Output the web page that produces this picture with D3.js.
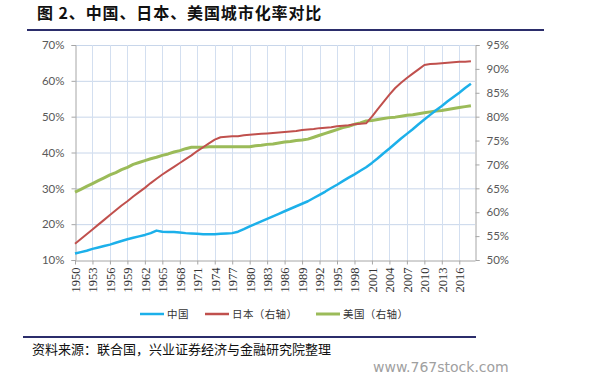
<!DOCTYPE html>
<html><head><meta charset="utf-8">
<script src="https://cdn.jsdelivr.net/npm/d3@7"></script>
<style>body{margin:0;background:#fff;}svg{display:block;}</style>
</head><body>
<svg id="c" width="597" height="383"></svg>
<script>
const years = d3.range(1950, 2019);
const china = [11.8,12.2,12.6,13.1,13.5,13.9,14.3,14.8,15.3,15.8,16.2,16.6,17.0,17.5,18.2,17.9,17.8,17.8,17.7,17.5,17.4,17.3,17.2,17.2,17.2,17.3,17.4,17.5,17.9,18.6,19.4,20.1,20.8,21.5,22.2,22.9,23.6,24.3,25.0,25.7,26.4,27.3,28.2,29.1,30.1,31.0,32.0,33.0,33.9,34.9,35.9,37.1,38.4,39.8,41.1,42.5,43.9,45.2,46.5,47.9,49.2,50.5,51.8,53.0,54.3,55.5,56.7,58.0,59.2];
const japan = [53.4,54.4,55.4,56.4,57.4,58.4,59.4,60.4,61.4,62.3,63.3,64.2,65.1,66.1,67.0,67.9,68.7,69.5,70.3,71.1,71.9,72.8,73.6,74.4,75.2,75.7,75.8,75.9,75.9,76.1,76.2,76.3,76.4,76.5,76.6,76.7,76.8,76.9,77.0,77.2,77.3,77.4,77.6,77.7,77.8,78.0,78.1,78.2,78.4,78.5,78.6,80.0,81.6,83.1,84.6,86.0,87.1,88.1,89.0,89.9,90.8,91.0,91.1,91.2,91.3,91.4,91.5,91.5,91.6];
const usa = [64.2,64.8,65.4,66.0,66.6,67.2,67.8,68.3,68.9,69.4,70.0,70.4,70.8,71.2,71.5,71.9,72.2,72.6,72.9,73.3,73.6,73.6,73.6,73.7,73.7,73.7,73.7,73.7,73.7,73.7,73.7,73.9,74.0,74.2,74.3,74.5,74.7,74.8,75.0,75.1,75.3,75.7,76.1,76.5,76.9,77.3,77.7,78.0,78.4,78.7,79.1,79.2,79.4,79.6,79.8,79.9,80.1,80.3,80.4,80.6,80.8,81.0,81.2,81.3,81.5,81.7,81.9,82.1,82.3];
const leftTicks = [10,20,30,40,50,60,70];
const rightTicks = [50,55,60,65,70,75,80,85,90,95];
const xTickYears = d3.range(1950, 2017, 3);
const seriesNames = ["中国","日本（右轴）","美国（右轴）"];
const seriesColors = ["#1cb0ea","#c0504d","#9bbb59"];
const title = "图 2、中国、日本、美国城市化率对比";
const source = "资料来源：联合国，兴业证券经济与金融研究院整理";
const watermark = "www.767stock.com";

const svg = d3.select("#c");
const L = 75, R = 475, T = 45, B = 260;
const x = d3.scaleLinear().domain([1950, 2018.7]).range([L, R]);
const yL = d3.scaleLinear().domain([10, 70]).range([B, T]);
const yR = d3.scaleLinear().domain([50, 95]).range([B, T]);

// title
svg.append("text").attr("x", 37).attr("y", 18.5).attr("font-family", "Noto Sans CJK SC")
  .attr("font-weight", "bold").attr("font-size", 16).attr("letter-spacing", 0.9).attr("fill", "#111").text(title);
svg.append("line").attr("x1", 27).attr("x2", 544).attr("y1", 30).attr("y2", 30).attr("stroke", "#2b2d6b").attr("stroke-width", 2);

// gridlines
const g = svg.append("g");
g.selectAll(".hg").data(leftTicks.slice(1)).join("line")
  .attr("x1", L).attr("x2", R).attr("y1", d => yL(d) + 0.5).attr("y2", d => yL(d) + 0.5)
  .attr("stroke", "#c8d6ea").attr("stroke-width", 1);
g.selectAll(".vg").data(xTickYears.slice(1)).join("line")
  .attr("x1", d => Math.round(x(d)) + 0.5).attr("x2", d => Math.round(x(d)) + 0.5).attr("y1", T).attr("y2", B)
  .attr("stroke", "#d3dff0").attr("stroke-width", 1);

// axes
const axisColor = "#a6a6a6";
const ax = svg.append("g");
ax.append("g").attr("transform", `translate(${L + 0.5},0)`)
  .call(d3.axisLeft(yL).tickValues(leftTicks).tickFormat(d => d + "%").tickSize(4).tickPadding(7))
  .call(s => { s.select(".domain").attr("stroke", axisColor); s.selectAll("line").attr("stroke", axisColor);
    s.selectAll("text").attr("font-family", "Lato, sans-serif").attr("font-size", 11.5).attr("fill", "#595959"); });
ax.append("g").attr("transform", `translate(${R + 0.5},0)`)
  .call(d3.axisRight(yR).tickValues(rightTicks).tickFormat(d => d + "%").tickSize(4).tickPadding(7))
  .call(s => { s.select(".domain").attr("stroke", axisColor); s.selectAll("line").attr("stroke", axisColor);
    s.selectAll("text").attr("font-family", "Lato, sans-serif").attr("font-size", 11.5).attr("fill", "#595959"); });
const xa = ax.append("g").attr("transform", `translate(0,${B + 0.5})`)
  .call(d3.axisBottom(x).tickValues(xTickYears).tickFormat(d => String(d)).tickSize(4).tickSizeOuter(0));
xa.select(".domain").attr("stroke", axisColor);
xa.selectAll(".tick line").attr("stroke", axisColor);
xa.selectAll(".tick text").attr("font-family", "Liberation Serif, serif").attr("font-size", 12.5).attr("fill", "#333")
  .attr("transform", "rotate(-90)").attr("text-anchor", "end").attr("dy", "0.35em").attr("x", -7).attr("y", 0);

// lines
const lineL = d3.line().x((d, i) => x(years[i])).y(d => yL(d));
const lineR = d3.line().x((d, i) => x(years[i])).y(d => yR(d));
svg.append("path").datum(usa).attr("d", lineR).attr("fill", "none").attr("stroke", seriesColors[2]).attr("stroke-width", 3).attr("stroke-linejoin", "round");
svg.append("path").datum(japan).attr("d", lineR).attr("fill", "none").attr("stroke", seriesColors[1]).attr("stroke-width", 2).attr("stroke-linejoin", "round");
svg.append("path").datum(china).attr("d", lineL).attr("fill", "none").attr("stroke", seriesColors[0]).attr("stroke-width", 2.5).attr("stroke-linejoin", "round");

// legend
const legX = [140, 205, 316];
const lg = svg.append("g");
seriesNames.forEach((n, i) => {
  lg.append("line").attr("x1", legX[i]).attr("x2", legX[i] + 24).attr("y1", 314).attr("y2", 314)
    .attr("stroke", seriesColors[i]).attr("stroke-width", i === 2 ? 3 : 2.5);
  lg.append("text").attr("x", legX[i] + 27).attr("y", 318).attr("font-family", "Noto Sans CJK SC")
    .attr("font-size", 10.5).attr("letter-spacing", 0.4).attr("fill", "#333").text(n);
});

// footer
svg.append("line").attr("x1", 23).attr("x2", 476).attr("y1", 337).attr("y2", 337).attr("stroke", "#2b2d6b").attr("stroke-width", 2);
svg.append("text").attr("x", 32).attr("y", 354).attr("font-family", "Noto Sans CJK SC")
  .attr("font-size", 13).attr("fill", "#111").text(source);
svg.append("text").attr("x", 373).attr("y", 372).attr("font-family", "DejaVu Sans, sans-serif")
  .attr("font-size", 14).attr("fill", "#a0a0a0").text(watermark);
</script>
</body></html>
